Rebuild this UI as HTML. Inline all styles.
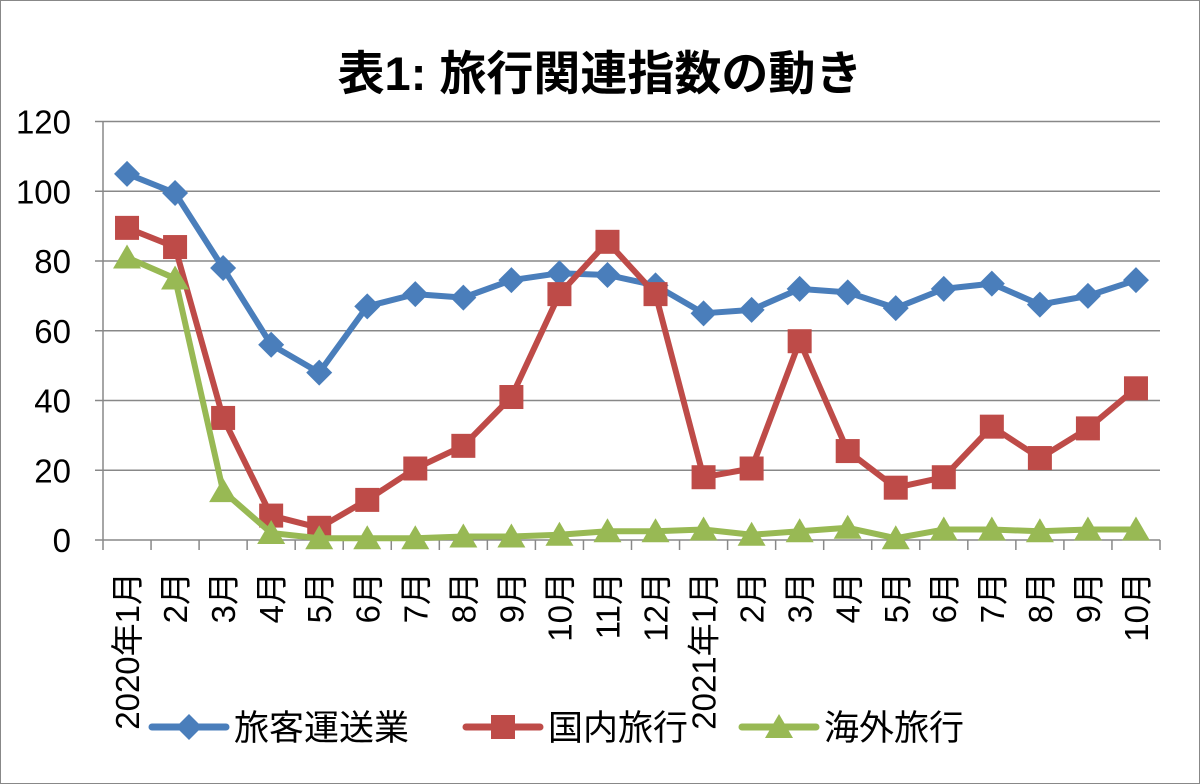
<!DOCTYPE html>
<html><head><meta charset="utf-8"><style>
html,body{margin:0;padding:0;background:#fff;}
svg{display:block;font-family:"Liberation Sans","Noto Sans CJK JP",sans-serif;}
</style></head><body>
<svg id="s" width="1200" height="784" viewBox="0 0 1200 784" xmlns="http://www.w3.org/2000/svg">
<rect x="0.5" y="0.5" width="1199" height="783" fill="#fff" stroke="#888" stroke-width="1"/>
<text x="600" y="90" text-anchor="middle" font-size="47" font-weight="bold" fill="#000">表1: 旅行関連指数の動き</text>
<g id="g"></g>
</svg>
<script>
const g=document.getElementById('g');let h='';
const X0=103,X1=1160,Y0=540,Y120=121.5,n=22,w=(X1-X0)/n;
const y=v=>Y0-(v/120)*(Y0-Y120);const x=i=>X0+w*(i+0.5);
for(let v=20;v<=120;v+=20)h+=`<line x1="${X0}" x2="${X1}" y1="${y(v)}" y2="${y(v)}" stroke="#888" stroke-width="1.5"/>`;
h+=`<line x1="${X0}" x2="${X0}" y1="${Y120}" y2="${Y0}" stroke="#888" stroke-width="1.5"/>`;
h+=`<line x1="${X0}" x2="${X1}" y1="${Y0}" y2="${Y0}" stroke="#888" stroke-width="1.5"/>`;
for(let v=0;v<=120;v+=20){h+=`<line x1="${X0-8}" x2="${X0}" y1="${y(v)}" y2="${y(v)}" stroke="#888" stroke-width="1.5"/>`;
h+=`<text x="${X0-32}" y="${y(v)+12}" text-anchor="end" font-size="33">${v}</text>`;}
for(let i=0;i<=n;i++)h+=`<line x1="${X0+w*i}" x2="${X0+w*i}" y1="${Y0}" y2="${Y0+10}" stroke="#888" stroke-width="1.5"/>`;
const labs=['2020年1月','2月','3月','4月','5月','6月','7月','8月','9月','10月','11月','12月','2021年1月','2月','3月','4月','5月','6月','7月','8月','9月','10月'];
labs.forEach((l,i)=>{h+=`<text transform="translate(${x(i)+12},572) rotate(-90)" text-anchor="end" font-size="33">${l}</text>`;});
const B=[105,99.5,78,56,48,67,70.5,69.5,74.5,76.5,76,73,65,66,72,71,66.5,72,73.5,67.5,70,74.5];
const R=[89.5,84,35,7,3.5,11.5,20.5,27,41,70.5,85.5,70.5,18,20.5,57,25.5,15,18,32.5,23.5,32,43.5];
const G=[81,75,14,2,0.5,0.5,0.5,1,1,1.5,2.5,2.5,3,1.5,2.5,3.5,0.5,3,3,2.5,3,3];
const line=(d,c)=>`<polyline fill="none" stroke="${c}" stroke-width="6" stroke-linejoin="round" points="${d.map((v,i)=>x(i)+','+y(v)).join(' ')}"/>`;
const dia=(cx,cy,c)=>`<polygon points="${cx},${cy-13} ${cx+13},${cy} ${cx},${cy+13} ${cx-13},${cy}" fill="${c}"/>`;
const sq=(cx,cy,c)=>`<rect x="${cx-12}" y="${cy-12}" width="24" height="24" fill="${c}"/>`;
const tri=(cx,cy,c)=>`<polygon points="${cx},${cy-13} ${cx+14},${cy+11} ${cx-14},${cy+11}" fill="${c}"/>`;
const cb='#4a7ebb',cr='#be4b48',cg='#98b954';
h+=line(B,cb);B.forEach((v,i)=>h+=dia(x(i),y(v),cb));
h+=line(R,cr);R.forEach((v,i)=>h+=sq(x(i),y(v),cr));
h+=line(G,cg);G.forEach((v,i)=>h+=tri(x(i),y(v),cg));
const LY=727;
h+=`<line x1="152" x2="226" y1="${LY}" y2="${LY}" stroke="${cb}" stroke-width="7" stroke-linecap="round"/>`+dia(189,LY,cb);
h+=`<text x="234" y="${LY+13}" font-size="35">旅客運送業</text>`;
h+=`<line x1="466" x2="540" y1="${LY}" y2="${LY}" stroke="${cr}" stroke-width="7" stroke-linecap="round"/>`+sq(503,LY,cr);
h+=`<text x="548" y="${LY+13}" font-size="35">国内旅行</text>`;
h+=`<line x1="742" x2="816" y1="${LY}" y2="${LY}" stroke="${cg}" stroke-width="7" stroke-linecap="round"/>`+tri(779,LY,cg);
h+=`<text x="824" y="${LY+13}" font-size="35">海外旅行</text>`;
g.innerHTML=h;
</script>
</body></html>
